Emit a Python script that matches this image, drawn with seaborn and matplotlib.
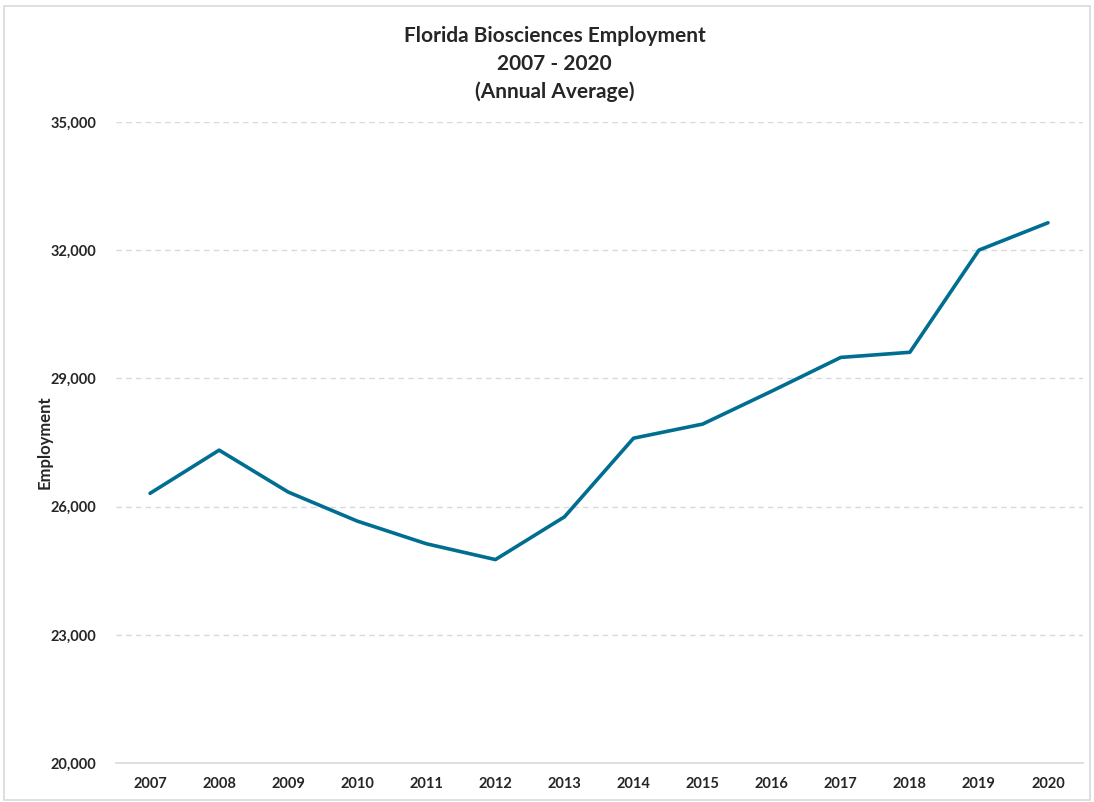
import matplotlib
matplotlib.use("Agg")
import matplotlib.pyplot as plt
import matplotlib.ticker as mticker
import pandas as pd
import seaborn as sns

# Data
years = [2007, 2008, 2009, 2010, 2011, 2012, 2013, 2014, 2015, 2016, 2017, 2018, 2019, 2020]
employment = [26310, 27320, 26340, 25660, 25130, 24760, 25760, 27600, 27930, 28700, 29490, 29610, 32000, 32640]
y_ticks = [20000, 23000, 26000, 29000, 32000, 35000]

df = pd.DataFrame({"Year": [str(y) for y in years], "Employment": employment})

sns.set_theme(style="white")
plt.rcParams['font.family'] = ['Lato', 'DejaVu Sans']

fig = plt.figure(figsize=(10.94, 8.02), dpi=100)
ax = fig.add_axes([0.1056, 0.0486, 0.8839, 0.7994])

sns.lineplot(data=df, x="Year", y="Employment", ax=ax, color="#006e91",
             linewidth=2.6, sort=False)

ax.set_xlim(-0.5, len(years) - 0.5)
ax.set_ylim(20000, 35000)
ax.set_yticks(y_ticks)
ax.yaxis.set_major_formatter(mticker.FuncFormatter(lambda v, p: f"{int(v):,}"))

# Dashed horizontal gridlines, solid baseline
for t in y_ticks[1:]:
    ax.axhline(t, color="#d9d9d9", linestyle=(0, (4, 3)), linewidth=1, zorder=0)
for side in ["top", "right", "left"]:
    ax.spines[side].set_visible(False)
ax.spines["bottom"].set_color("#d9d9d9")
ax.spines["bottom"].set_linewidth(1.2)

ax.tick_params(axis="both", length=0, labelsize=10.5)
ax.tick_params(axis="x", pad=10)
ax.tick_params(axis="y", pad=14)
for lbl in ax.get_xticklabels() + ax.get_yticklabels():
    lbl.set_fontweight("bold")

ax.set_xlabel("")
ax.set_ylabel("Employment", fontsize=12, fontweight="bold", labelpad=-2)

fig.suptitle("Florida Biosciences Employment\n2007 - 2020\n(Annual Average)",
             x=0.507, y=0.967, fontsize=15, fontweight="bold", linespacing=1.45)

# Light grey chart border
fig.patches.append(plt.Rectangle((0.004, 0.003), 0.992, 0.99, transform=fig.transFigure,
                                 fill=False, edgecolor="#d9d9d9", linewidth=1.2))

fig.savefig("out.png", dpi=100)
